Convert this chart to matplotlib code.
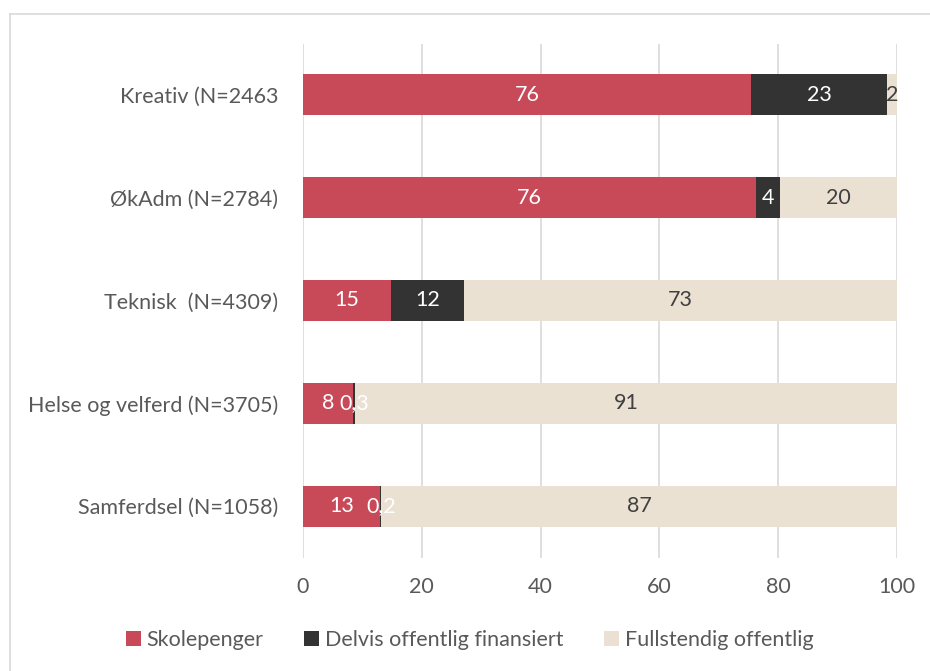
import matplotlib.pyplot as plt
import numpy as np
from matplotlib.lines import Line2D

kategorier = ["Kreativ (N=2463", "ØkAdm (N=2784)", "Teknisk  (N=4309)",
              "Helse og velferd (N=3705)", "Samferdsel (N=1058)"]
skolepenger = [75.5, 76.3, 14.8, 8.4, 13.0]
delvis = [22.8, 4.0, 12.3, 0.3, 0.2]
fullstendig = [1.7, 19.7, 72.9, 91.3, 86.8]
lab_skole = ["76", "76", "15", "8", "13"]
lab_delvis = ["23", "4", "12", "0,3", "0,2"]
lab_full = ["2", "20", "73", "91", "87"]

plt.rcParams['font.family'] = ['Lato', 'DejaVu Sans']
grå = "#595959"
fs = 15.5

fig = plt.figure(figsize=(9.3, 6.71), dpi=100)
ax = fig.add_axes([303/930, 1-557.5/671, 594/930, 514/671])

y = np.arange(len(kategorier))
h = 0.4
rod, mork, beige = "#C84A59", "#333333", "#EBE1D3"
b1 = ax.barh(y, skolepenger, height=h, color=rod, label="Skolepenger")
b2 = ax.barh(y, delvis, left=skolepenger, height=h, color=mork, label="Delvis offentlig finansiert")
venstre = np.array(skolepenger) + np.array(delvis)
b3 = ax.barh(y, fullstendig, left=venstre, height=h, color=beige, label="Fullstendig offentlig")

ax.bar_label(b1, labels=lab_skole, label_type="center", color="white", fontsize=fs)
ax.bar_label(b2, labels=lab_delvis, label_type="center", color="white", fontsize=fs)
ax.bar_label(b3, labels=lab_full, label_type="center", color="#404040", fontsize=fs)

ax.set_xlim(0, 100)
ax.set_ylim(len(kategorier) - 0.5, -0.5)
ax.set_yticks(y)
ax.set_yticklabels(kategorier)
ax.set_xticks(range(0, 101, 20))
ax.tick_params(length=0, labelsize=fs, colors=grå)
ax.tick_params(axis="y", pad=18)
ax.tick_params(axis="x", pad=14)
ax.grid(axis="x", color="#D9D9D9", linewidth=1.2)
ax.set_axisbelow(True)
for s in ax.spines.values():
    s.set_visible(False)

leg = fig.legend(loc="center", bbox_to_anchor=(0.505, 1-640/671), ncol=3, frameon=False,
                 fontsize=fs, handlelength=0.7, handleheight=0.7, handletextpad=0.25,
                 columnspacing=1.9)
for t in leg.get_texts():
    t.set_color(grå)

# ramme (kun topp og venstre synlig)
fig.add_artist(Line2D([10/930, 1], [1-14/671, 1-14/671], color="#D9D9D9", lw=1.2))
fig.add_artist(Line2D([10/930, 10/930], [0, 1-14/671], color="#D9D9D9", lw=1.2))

fig.savefig("out.png", dpi=100)
